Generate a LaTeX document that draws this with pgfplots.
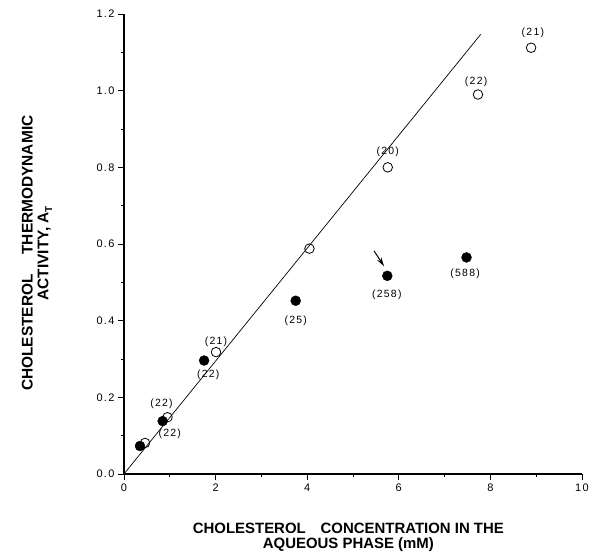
\documentclass[border=0pt]{standalone}
\usepackage{fontspec}
\setmainfont{Liberation Sans}
\newfontfamily\spaced[LetterSpace=12]{Liberation Sans}
\usepackage{pgfplots}
\pgfplotsset{compat=1.18}
\usetikzlibrary{arrows.meta}

\newcommand{\lab}{\spaced\fontsize{10.5}{12}\selectfont}
\newcommand{\tlab}{\spaced\fontsize{11}{12}\selectfont}

\begin{document}
\begin{tikzpicture}
\begin{axis}[
    width=458bp, height=460bp, scale only axis,
    xmin=0, xmax=10, ymin=0, ymax=1.2,
    axis x line*=bottom, axis y line*=left,
    axis line style={line width=1.1pt, -},
    xtick={0,2,4,6,8,10},
    ytick={0,0.2,0.4,0.6,0.8,1.0,1.2},
    minor x tick num=1, minor y tick num=1,
    tick align=outside,
    major tick length=6bp, minor tick length=3bp,
    every tick/.style={line width=0.8pt, black},
    /pgf/number format/assume math mode=true,
    xticklabel style={font=\tlab},
    yticklabel style={font=\tlab, /pgf/number format/.cd, fixed, fixed zerofill, precision=1},
    clip=false,
    xlabel={CHOLESTEROL\quad CONCENTRATION IN THE\\AQUEOUS PHASE (mM)},
    xlabel style={at={(rel axis cs:0.49,-0.137)}, anchor=center, align=center,
                  font=\bfseries\fontsize{15}{15}\selectfont},
    ylabel={CHOLESTEROL\quad\ THERMODYNAMIC\\ACTIVITY, A\raisebox{-0.45ex}{\fontsize{10}{10}\selectfont T}},
    ylabel style={at={(rel axis cs:-0.19,0.48)}, anchor=center, align=center,
                  font=\bfseries\fontsize{15.5}{16}\selectfont},
]
% invisible frame giving the picture its proportions
\path (axis cs:-2.707,-0.198) rectangle (axis cs:10.218,1.2366);

% fitted line
\addplot[black, line width=0.7pt] coordinates {(0,0) (7.79,1.147)};

% filled circles
\addplot[only marks, mark=*, mark size=5pt, black] coordinates {
    (0.35,0.073) (0.845,0.138) (1.75,0.296) (3.75,0.452) (5.75,0.517) (7.48,0.565)
};
% open circles
\addplot[only marks, mark=o, mark size=4.8pt, black, line width=0.8pt,
         mark options={fill=white}] coordinates {
    (0.46,0.081) (0.95,0.148) (2.01,0.318) (4.05,0.588) (5.76,0.800) (7.73,0.990) (8.89,1.112)
};

\node[font=\lab] at (axis cs:8.93,1.151) {(21)};
\node[font=\lab] at (axis cs:7.69,1.023) {(22)};
\node[font=\lab] at (axis cs:5.76,0.841) {(20)};
\node[font=\lab] at (axis cs:5.74,0.467) {(258)};
\node[font=\lab] at (axis cs:7.45,0.521) {(588)};
\node[font=\lab] at (axis cs:3.75,0.399) {(25)};
\node[font=\lab] at (axis cs:2.01,0.345) {(21)};
\node[font=\lab] at (axis cs:1.84,0.258) {(22)};
\node[font=\lab] at (axis cs:0.82,0.182) {(22)};
\node[font=\lab] at (axis cs:1.00,0.104) {(22)};

\draw[-{Stealth[length=9bp,width=5bp]}, line width=1pt]
    (axis cs:5.46,0.582) -- (axis cs:5.68,0.542);
\end{axis}
\end{tikzpicture}
\end{document}
